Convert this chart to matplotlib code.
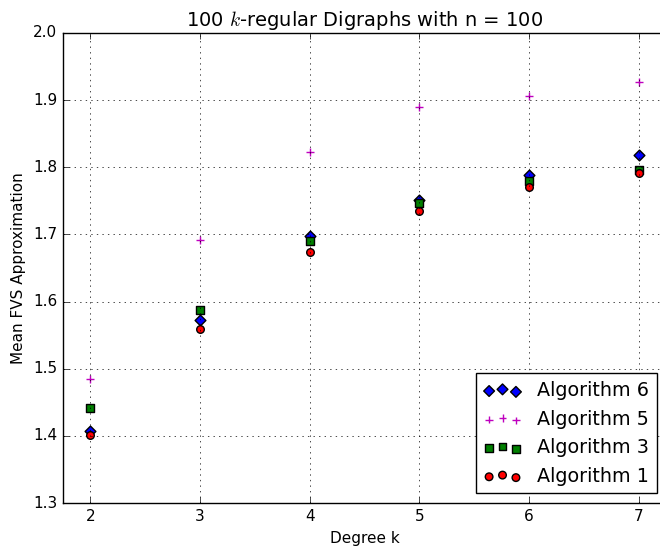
import matplotlib
matplotlib.use("Agg")
import matplotlib.pyplot as plt

plt.style.use("classic")

degrees = [2, 3, 4, 5, 6, 7]
alg6 = [1.407, 1.572, 1.697, 1.751, 1.788, 1.818]
alg5 = [1.484, 1.692, 1.823, 1.890, 1.906, 1.927]
alg3 = [1.442, 1.588, 1.690, 1.746, 1.779, 1.796]
alg1 = [1.401, 1.559, 1.674, 1.735, 1.770, 1.792]

fig = plt.figure(figsize=(6.6, 5.48), dpi=100)
ax = fig.add_axes([0.0955, 0.082, 0.914, 0.858])

ax.scatter(degrees, alg6, marker="D", c="b", s=30, label="Algorithm 6")
ax.scatter(degrees, alg5, marker="+", c="m", s=30, label="Algorithm 5")
ax.scatter(degrees, alg3, marker="s", c="g", s=30, label="Algorithm 3")
ax.scatter(degrees, alg1, marker="o", c="r", s=30, label="Algorithm 1")

ax.set_xlim(1.75, 7.25)
ax.set_ylim(1.3, 2.0)
ax.set_xticks(degrees)
ax.grid(True)
ax.set_xlabel("Degree k", fontsize=11)
ax.set_ylabel("Mean FVS Approximation", fontsize=11)
ax.set_title("100 $k$-regular Digraphs with n = 100", fontsize=14)
ax.tick_params(labelsize=11)
ax.legend(loc="lower right", scatterpoints=3, fontsize=13.8)

fig.savefig("out.png", dpi=100)
